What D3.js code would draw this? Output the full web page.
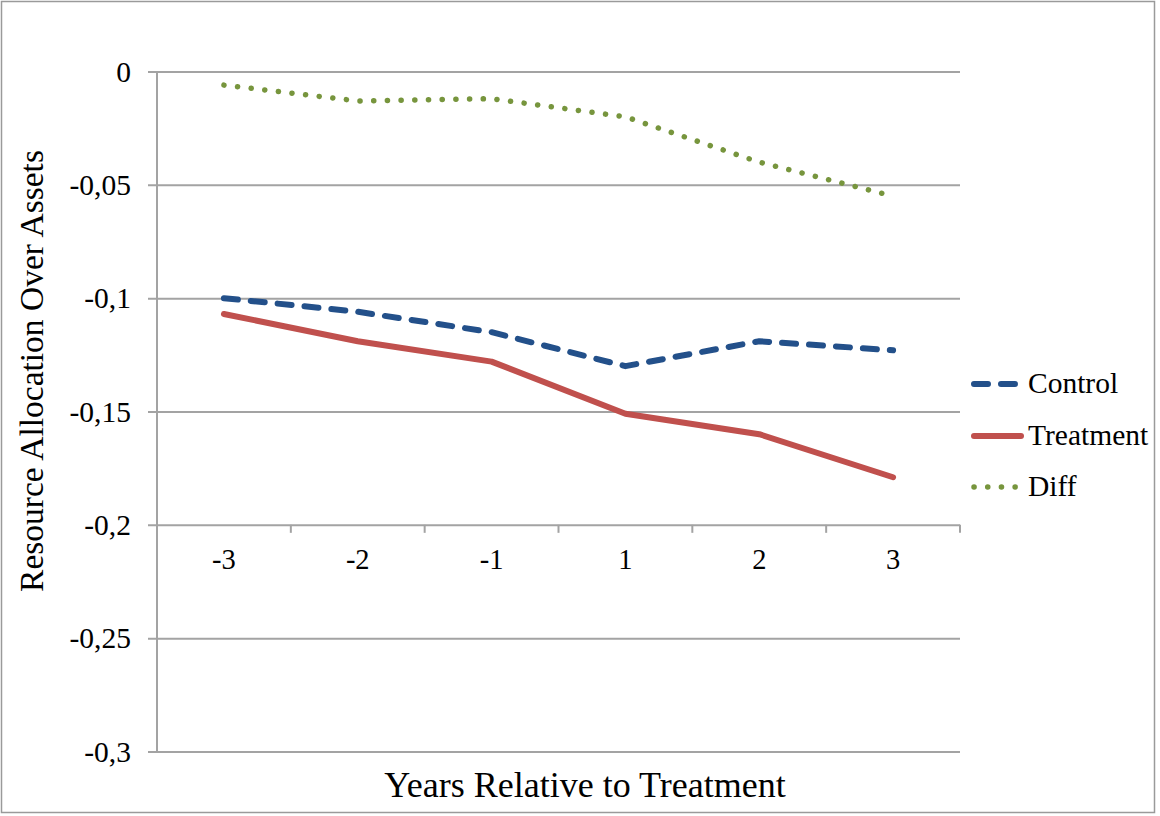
<!DOCTYPE html>
<html>
<head>
<meta charset="utf-8">
<script src="https://cdn.jsdelivr.net/npm/d3@7"></script>
<style>
  html, body { margin: 0; padding: 0; background: #fff; }
  svg { display: block; font-family: "Liberation Serif", "Times New Roman", serif; }
</style>
</head>
<body>
<svg id="chart" width="1160" height="816"></svg>
<script>
// Years relative to treatment (categories)
const years = ["-3", "-2", "-1", "1", "2", "3"];

// Resource allocation over assets, by group
const control   = [-0.100, -0.106, -0.115, -0.130, -0.119, -0.123];
const treatment = [-0.107, -0.119, -0.128, -0.151, -0.160, -0.179];
const diff      = [-0.006, -0.013, -0.012, -0.020, -0.040, -0.055];

// Value-axis ticks and their labels
const yTicks      = [0, -0.05, -0.1, -0.15, -0.2, -0.25, -0.3];
const yTickLabels = ["0", "-0,05", "-0,1", "-0,15", "-0,2", "-0,25", "-0,3"];

const seriesNames = ["Control", "Treatment", "Diff"];

const svg = d3.select("#chart");

// outer frame
svg.append("rect")
  .attr("x", 1.5).attr("y", 1.5)
  .attr("width", 1153).attr("height", 811)
  .attr("fill", "none").attr("stroke", "#9a9a9a").attr("stroke-width", 1.5);

const plot = { left: 157, right: 960, top: 71.5, bottom: 751.5 };

const x = d3.scaleBand().domain(years).range([plot.left, plot.right]).padding(0);
const y = d3.scaleLinear().domain([-0.3, 0]).range([plot.bottom, plot.top]);

const gridColor = "#a3a3a3";

// horizontal gridlines with short outward ticks
const grid = svg.append("g")
  .attr("transform", `translate(${plot.left},0)`)
  .call(d3.axisLeft(y).tickValues(yTicks).tickSize(-(plot.right - plot.left)).tickFormat(""));
grid.select(".domain").remove();
grid.selectAll(".tick line")
  .attr("x1", -9)
  .attr("stroke", gridColor).attr("stroke-width", 2);

// value labels
svg.append("g").selectAll("text")
  .data(yTicks)
  .join("text")
  .attr("x", 131)
  .attr("y", d => y(d))
  .attr("dy", "0.35em")
  .attr("text-anchor", "end")
  .attr("font-size", 29.5)
  .attr("fill", "#000")
  .text((d, i) => yTickLabels[i]);

// vertical value axis line
svg.append("line")
  .attr("x1", plot.left).attr("x2", plot.left)
  .attr("y1", y(0)).attr("y2", y(-0.3))
  .attr("stroke", gridColor).attr("stroke-width", 2);

// category axis sits at -0.2
const xAxisY = y(-0.2);
const boundaries = years.map(d => x(d)).concat([x(years[years.length - 1]) + x.bandwidth()]);
svg.append("g").selectAll("line")
  .data(boundaries)
  .join("line")
  .attr("x1", d => d).attr("x2", d => d)
  .attr("y1", xAxisY).attr("y2", xAxisY + 8)
  .attr("stroke", gridColor).attr("stroke-width", 2);

svg.append("g").selectAll("text")
  .data(years)
  .join("text")
  .attr("x", d => x(d) + x.bandwidth() / 2)
  .attr("y", 569)
  .attr("text-anchor", "middle")
  .attr("font-size", 28.5)
  .attr("fill", "#000")
  .text(d => d);

// axis titles
svg.append("text")
  .attr("x", 585).attr("y", 797)
  .attr("text-anchor", "middle")
  .attr("font-size", 36)
  .attr("fill", "#000")
  .text("Years Relative to Treatment");

svg.append("text")
  .attr("transform", "translate(43,371) rotate(-90)")
  .attr("text-anchor", "middle")
  .attr("font-size", 33.5)
  .attr("fill", "#000")
  .text("Resource Allocation Over Assets");

// series styling
const styles = {
  Control:   { color: "#23508a", dash: "14 13", width: 6 },
  Treatment: { color: "#c0504d", dash: null,    width: 6 },
  Diff:      { color: "#77953d", dash: "0.1 13.6", width: 5.5 }
};
const seriesData = { Control: control, Treatment: treatment, Diff: diff };

const line = d3.line()
  .x((d, i) => x(years[i]) + x.bandwidth() / 2)
  .y(d => y(d));

const drawOrder = ["Diff", "Control", "Treatment"];
drawOrder.forEach(name => {
  const s = styles[name];
  svg.append("path")
    .datum(seriesData[name])
    .attr("d", line)
    .attr("fill", "none")
    .attr("stroke", s.color)
    .attr("stroke-width", s.width)
    .attr("stroke-linecap", "round")
    .attr("stroke-linejoin", "round")
    .attr("stroke-dasharray", s.dash);
});

// legend
const legendRows = [384, 436, 487];
const legend = svg.append("g");
seriesNames.forEach((name, i) => {
  const s = styles[name];
  const ly = legendRows[i];
  legend.append("line")
    .attr("x1", 974).attr("x2", 1021)
    .attr("y1", ly).attr("y2", ly)
    .attr("stroke", s.color)
    .attr("stroke-width", s.width)
    .attr("stroke-linecap", "round")
    .attr("stroke-dasharray", s.dash);
  legend.append("text")
    .attr("x", 1028).attr("y", ly + 9)
    .attr("font-size", 29.5)
    .attr("fill", "#000")
    .text(name);
});
</script>
</body>
</html>
